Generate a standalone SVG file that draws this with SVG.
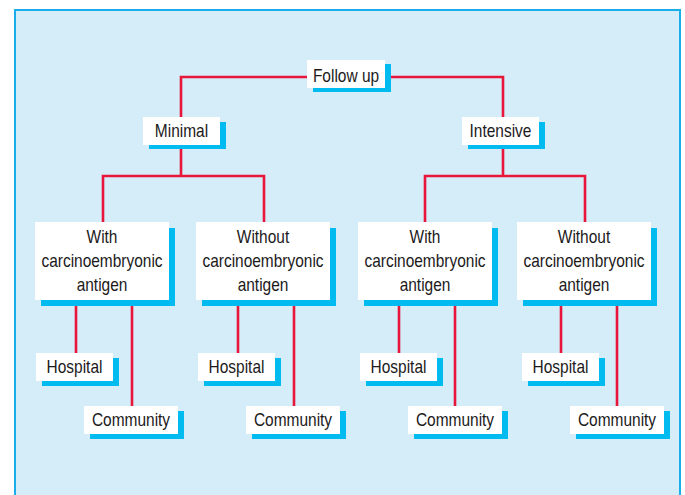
<svg xmlns="http://www.w3.org/2000/svg" width="685" height="495" viewBox="0 0 685 495">
<style>
.panel{fill:#d5ecf9;stroke:#19aeea;stroke-width:2}
.box{fill:#ffffff}
.sh{fill:#00bbf0}
.ln{fill:none;stroke:#e8173a;stroke-width:2.6}
.t{font-family:"Liberation Sans",Arial,sans-serif;font-size:18px;fill:#1c1a1b;text-anchor:middle}
</style>
<rect class="panel" x="15" y="10" width="665" height="500"/>
<g id="connectors">
<path class="ln" d="M181,117 V77 H503 V117"/>
<path class="ln" d="M181,144 V176 M103,222 V176 H264 V222"/>
<path class="ln" d="M503,145 V176 M425,222 V176 H585 V222"/>
<path class="ln" d="M76,300 V353 M132,300 V406"/>
<path class="ln" d="M238,300 V353 M294,300 V406"/>
<path class="ln" d="M399,300 V353 M455,300 V406"/>
<path class="ln" d="M561,300 V353 M617,300 V406"/>
</g>
<g id="followup">
<rect class="sh" x="313" y="64" width="78" height="28"/>
<rect class="box" x="307" y="60" width="78" height="28"/>
<text class="t" transform="translate(346,81.5) scale(0.86,1)">Follow up</text>
</g>
<g id="minimal">
<rect class="sh" x="149" y="122" width="77" height="27"/>
<rect class="box" x="143" y="117" width="77" height="28"/>
<text class="t" transform="translate(181.5,136.5) scale(0.86,1)">Minimal</text>
</g>
<g id="intensive">
<rect class="sh" x="468" y="122" width="77" height="27"/>
<rect class="box" x="462" y="117" width="77" height="28"/>
<text class="t" transform="translate(500.5,136.5) scale(0.86,1)">Intensive</text>
</g>
<g id="with1">
<rect class="sh" x="41" y="228" width="134" height="78"/>
<rect class="box" x="35" y="222" width="134" height="78"/>
<text class="t" transform="translate(102,243) scale(0.86,1)">With</text>
<text class="t" transform="translate(102,267) scale(0.86,1)">carcinoembryonic</text>
<text class="t" transform="translate(102,291) scale(0.86,1)">antigen</text>
</g>
<g id="without1">
<rect class="sh" x="202" y="228" width="134" height="78"/>
<rect class="box" x="196" y="222" width="134" height="78"/>
<text class="t" transform="translate(263,243) scale(0.86,1)">Without</text>
<text class="t" transform="translate(263,267) scale(0.86,1)">carcinoembryonic</text>
<text class="t" transform="translate(263,291) scale(0.86,1)">antigen</text>
</g>
<g id="with2">
<rect class="sh" x="364" y="228" width="134" height="78"/>
<rect class="box" x="358" y="222" width="134" height="78"/>
<text class="t" transform="translate(425,243) scale(0.86,1)">With</text>
<text class="t" transform="translate(425,267) scale(0.86,1)">carcinoembryonic</text>
<text class="t" transform="translate(425,291) scale(0.86,1)">antigen</text>
</g>
<g id="without2">
<rect class="sh" x="523" y="228" width="134" height="78"/>
<rect class="box" x="517" y="222" width="134" height="78"/>
<text class="t" transform="translate(584,243) scale(0.86,1)">Without</text>
<text class="t" transform="translate(584,267) scale(0.86,1)">carcinoembryonic</text>
<text class="t" transform="translate(584,291) scale(0.86,1)">antigen</text>
</g>
<g id="hospital1">
<rect class="sh" x="42" y="358" width="77" height="28"/>
<rect class="box" x="36" y="353" width="77" height="28"/>
<text class="t" transform="translate(74.5,373) scale(0.86,1)">Hospital</text>
</g>
<g id="community1">
<rect class="sh" x="90" y="411" width="94" height="28"/>
<rect class="box" x="84" y="406" width="94" height="28"/>
<text class="t" transform="translate(131,426) scale(0.86,1)">Community</text>
</g>
<g id="hospital2">
<rect class="sh" x="204" y="358" width="77" height="28"/>
<rect class="box" x="198" y="353" width="77" height="28"/>
<text class="t" transform="translate(236.5,373) scale(0.86,1)">Hospital</text>
</g>
<g id="community2">
<rect class="sh" x="252" y="411" width="94" height="28"/>
<rect class="box" x="246" y="406" width="94" height="28"/>
<text class="t" transform="translate(293,426) scale(0.86,1)">Community</text>
</g>
<g id="hospital3">
<rect class="sh" x="366" y="358" width="77" height="28"/>
<rect class="box" x="360" y="353" width="77" height="28"/>
<text class="t" transform="translate(398.5,373) scale(0.86,1)">Hospital</text>
</g>
<g id="community3">
<rect class="sh" x="414" y="411" width="94" height="28"/>
<rect class="box" x="408" y="406" width="94" height="28"/>
<text class="t" transform="translate(455,426) scale(0.86,1)">Community</text>
</g>
<g id="hospital4">
<rect class="sh" x="528" y="358" width="77" height="28"/>
<rect class="box" x="522" y="353" width="77" height="28"/>
<text class="t" transform="translate(560.5,373) scale(0.86,1)">Hospital</text>
</g>
<g id="community4">
<rect class="sh" x="576" y="411" width="94" height="28"/>
<rect class="box" x="570" y="406" width="94" height="28"/>
<text class="t" transform="translate(617,426) scale(0.86,1)">Community</text>
</g>
</svg>
